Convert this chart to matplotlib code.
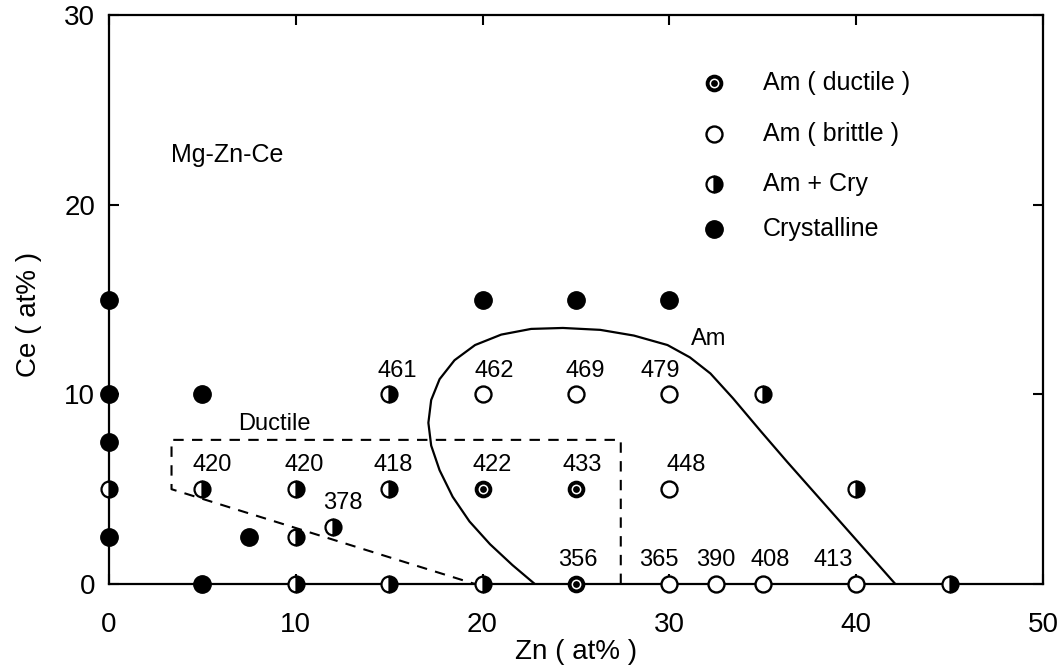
"""
Mg-Zn-Ce glass forming range diagram (Zn vs Ce, at%).
"""

import matplotlib
matplotlib.use("Agg")
import matplotlib.pyplot as plt

plt.rcParams['font.family'] = ['Liberation Sans', 'DejaVu Sans']

# Crystalline alloys
cry_zn = [0, 0, 0, 0, 5, 5, 7.5, 20, 25, 30]
cry_ce = [15, 10, 7.5, 2.5, 10, 0, 2.5, 15, 15, 15]

# Amorphous + crystalline
mix_zn = [0, 5, 10, 15, 12, 10, 10, 15, 20, 15, 35, 40, 45]
mix_ce = [5, 5, 5, 5, 3, 2.5, 0, 0, 0, 10, 10, 5, 0]

# Amorphous (ductile)
duc_zn = [20, 25, 25]
duc_ce = [5, 5, 0]

# Amorphous (brittle)
bri_zn = [20, 25, 30, 30, 30, 32.5, 35, 40]
bri_ce = [10, 10, 10, 5, 0, 0, 0, 0]

# temperature labels (K) next to points
tx_zn = [15, 20, 25, 30, 5, 10, 15, 20, 25, 30, 12, 25, 30, 32.5, 35, 40]
tx_ce = [10, 10, 10, 10, 5, 5, 5, 5, 5, 5, 3, 0, 0, 0, 0, 0]
tx_val = ['461', '462', '469', '479', '420', '420', '418', '422', '433',
          '448', '378', '356', '365', '390', '408', '413']
tx_dx = [0.45, 0.6, 0.5, -0.5, 0.5, 0.45, 0.2, 0.5, 0.35, 0.9, 0.5, 0.1,
         -0.55, 0, 0.4, -1.25]

# Am region boundary
am_zn = [22.8, 21.6, 20.4, 19.3, 18.4, 17.7, 17.25, 17.1, 17.25, 17.7, 18.5,
         19.6, 21.0, 22.6, 24.3, 26.3, 28.1, 29.9, 31.1, 32.2, 33.4, 34.9,
         36.3, 42.1]
am_ce = [0, 1.0, 2.1, 3.3, 4.6, 6.0, 7.3, 8.5, 9.7, 10.8, 11.8, 12.6, 13.15,
         13.45, 13.5, 13.4, 13.1, 12.6, 11.95, 11.1, 9.8, 8.05, 6.45, 0]

# Ductile region (dashed)
dz_zn = [27.4, 27.4, 3.35, 3.35, 19.6]
dz_ce = [0, 7.6, 7.6, 5.0, 0]

legend_labels = ['Am ( ductile )', 'Am ( brittle )', 'Am + Cry', 'Crystalline']
legend_ce = [26.4, 23.7, 21.1, 18.7]


def draw_ductile(ax, x, y):
    ax.plot(x, y, 'o', ms=11.5, mfc='black', mec='black', mew=1.2,
            ls='none', clip_on=False, zorder=5)
    ax.plot(x, y, 'o', ms=6, mfc='none', mec='white', mew=1.1,
            ls='none', clip_on=False, zorder=6)


def draw_half(ax, x, y):
    ax.plot(x, y, 'o', ms=11.5, fillstyle='right', mfc='black',
            markerfacecoloralt='white', mec='black', mew=1.6,
            ls='none', clip_on=False, zorder=5)


def draw_open(ax, x, y):
    ax.plot(x, y, 'o', ms=11.5, mfc='white', mec='black', mew=1.7,
            ls='none', clip_on=False, zorder=5)


def draw_filled(ax, x, y):
    ax.plot(x, y, 'o', ms=12.5, mfc='black', mec='black',
            ls='none', clip_on=False, zorder=5)


fig = plt.figure(figsize=(10.64, 6.69), dpi=100)
ax = fig.add_axes([0.1024, 0.127, 0.8778, 0.8506])

ax.plot(am_zn, am_ce, '-', color='black', lw=1.6, zorder=3)
ax.plot(dz_zn, dz_ce, '--', color='black', lw=1.5, dashes=(5, 4), zorder=3)

draw_filled(ax, cry_zn, cry_ce)
draw_half(ax, mix_zn, mix_ce)
draw_ductile(ax, duc_zn, duc_ce)
draw_open(ax, bri_zn, bri_ce)

for x, y, s, dx in zip(tx_zn, tx_ce, tx_val, tx_dx):
    ax.text(x + dx, y + 1.25, s, ha='center', va='center', fontsize=17)

# legend drawn in data space
lx = 32.4
draw_ductile(ax, [lx], [legend_ce[0]])
draw_open(ax, [lx], [legend_ce[1]])
draw_half(ax, [lx], [legend_ce[2]])
draw_filled(ax, [lx], [legend_ce[3]])
for lab, y in zip(legend_labels, legend_ce):
    ax.text(35.0, y, lab, ha='left', va='center', fontsize=18)

ax.text(3.3, 22.6, 'Mg-Zn-Ce', ha='left', va='center', fontsize=18)
ax.text(8.85, 8.45, 'Ductile', ha='center', va='center', fontsize=17)
ax.text(32.1, 12.9, 'Am', ha='center', va='center', fontsize=17)

ax.set_xlim(0, 50)
ax.set_ylim(0, 30)
ax.set_xticks([0, 10, 20, 30, 40, 50])
ax.set_yticks([0, 10, 20, 30])
ax.tick_params(direction='in', length=7, width=1.5, top=True, right=True,
               labelsize=20)
ax.tick_params(axis='x', pad=20)
ax.tick_params(axis='y', pad=10)
for sp in ax.spines.values():
    sp.set_linewidth(1.6)

ax.set_xlabel('Zn ( at% )', fontsize=20)
ax.set_ylabel('Ce ( at% )', fontsize=20)
ax.xaxis.set_label_coords(0.5, -0.097)
ax.yaxis.set_label_coords(-0.072, 0.473)

fig.savefig('out.png', dpi=100)
